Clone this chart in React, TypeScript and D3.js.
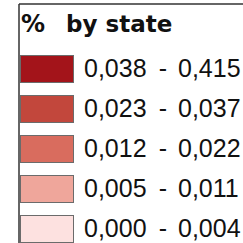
import * as d3 from "d3";
import React from "react";

const title = "%";
const titleRest = "by state";
const lowValues = ["0,038", "0,023", "0,012", "0,005", "0,000"];
const highValues = ["0,415", "0,037", "0,022", "0,011", "0,004"];
const classColors = ["#a3141a", "#c2473c", "#d96c5e", "#efa69b", "#fde1e0"];

const App = () => {
    const width = 243, height = 243;
    const frameX = 19, frameY = 4;

    const rows = d3.range(lowValues.length);
    // 40px pitch, 28px swatches
    const yScale = d3.scaleBand<number>()
        .domain(rows)
        .range([55, 243])
        .paddingInner(0.3)
        .paddingOuter(0);

    const swatchX = 20, swatchW = 54;

    return (
        <svg width={width} height={height}
             style={{position: "fixed", left: 0, top: 0, background: "#fff"}}>
            <rect x={0} y={0} width={width} height={height} fill="#fff"/>
            <line x1={frameX} y1={frameY} x2={width} y2={frameY} stroke="#333" strokeWidth={1.5}/>
            <line x1={frameX} y1={frameY} x2={frameX} y2={height} stroke="#333" strokeWidth={1.5}/>
            <text x={21} y={32} fontFamily="DejaVu Sans" fontWeight="bold" fontSize={24} fill="#111">{title}</text>
            <text x={66} y={32} fontFamily="DejaVu Sans" fontWeight="bold" fontSize={23} fill="#111">{titleRest}</text>
            {rows.map(i => {
                const y = yScale(i)!;
                return (
                    <g key={i}>
                        <rect x={swatchX + 0.5} y={y + 0.5} width={swatchW - 1} height={yScale.bandwidth() - 1}
                              fill={classColors[i]} stroke="#6b6b6b" strokeWidth={1}/>
                        <text x={84} y={y + 22} fontFamily="Liberation Sans" fontSize={25} fill="#111">{lowValues[i]}</text>
                        <text x={163} y={y + 22} fontFamily="Liberation Sans" fontSize={25} fill="#111" textAnchor="middle">-</text>
                        <text x={178} y={y + 22} fontFamily="Liberation Sans" fontSize={25} fill="#111">{highValues[i]}</text>
                    </g>
                );
            })}
        </svg>
    );
};

export default App;
